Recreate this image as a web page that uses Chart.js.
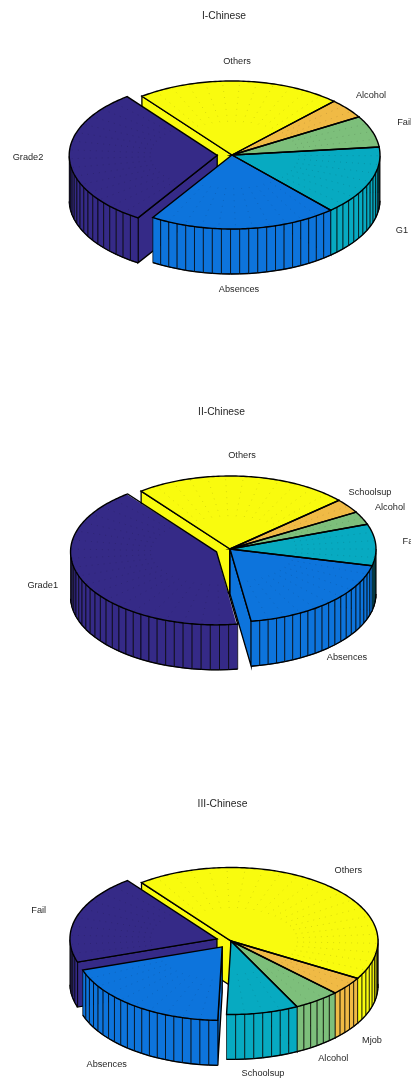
<!DOCTYPE html>
<html>
<head>
<meta charset="utf-8">
<style>
html, body { margin: 0; padding: 0; background: #fff; overflow: hidden; width: 411px; height: 1078px; }
canvas { position: absolute; left: 0; display: block; }
</style>
<script src="https://cdn.jsdelivr.net/npm/chart.js@4"></script>
</head>
<body>
<canvas id="chart1" width="411" height="396" style="top:0"></canvas>
<canvas id="chart2" width="411" height="392" style="top:396px"></canvas>
<canvas id="chart3" width="411" height="290" style="top:788px"></canvas>
<script>
// shares in percent
const labels1 = ['Grade2', 'Absences', 'G1', 'Fail', 'Alcohol', 'Others'];
const values1 = [30.6, 20.6, 15.1, 6.9, 4.3, 22.5];
const explode1 = [1, 0, 0, 0, 0, 0];

const labels2 = ['Grade1', 'Absences', 'Fail', 'Alcohol', 'Schoolsup', 'Others'];
const values2 = [41.9, 19.0, 9.2, 2.9, 3.2, 23.8];
const explode2 = [1, 0, 0, 0, 0, 0];

const labels3 = ['Fail', 'Absences', 'Schoolsup', 'Alcohol', 'Mjob', 'Others'];
const values3 = [19.7, 19.4, 7.9, 5.1, 4.0, 43.9];
const explode3 = [1, 1, 0, 0, 0, 0];

const colors = ['#352a87', '#0d74dc', '#07aac1', '#7dbf7b', '#f0ba45', '#f9fb0e'];

const tilt = 0.5;        // sin of the 30 degree view
const wallHeight = 45;
const wallStep = 3.6;    // degrees per wall facet
const startRotation = 217.5; // first slice starts 127.5 deg round from the x axis

function toRad(d) { return d * Math.PI / 180; }

// ArcElement grows an offset slice by this much, we take it back in afterDatasetsUpdate
function radiusGrowth(el) {
    return el.options.offset / 4 * (1 - Math.sin(Math.min(Math.PI, el.endAngle - el.startAngle)));
}

const pie3d = {
    id: 'pie3d',
    afterDatasetsUpdate(chart) {
        chart.getDatasetMeta(0).data.forEach(el => {
            el.outerRadius -= radiusGrowth(el);
        });
    },
    beforeDatasetsDraw(chart, args, opts) {
        const ctx = chart.ctx;
        const arcs = chart.getDatasetMeta(0).data;
        const c = arcs[0];
        const geo = arcs.map((el, i) => {
            const shift = el.options.offset / 4;
            const mid = (el.startAngle + el.endAngle) / 2;
            return {
                index: i, a: el.startAngle, b: el.endAngle, mid: mid,
                r: el.outerRadius + radiusGrowth(el),
                color: el.options.backgroundColor,
                x: opts.center.x + Math.cos(mid) * shift,
                y: opts.center.y - Math.sin(mid) * shift * tilt
            };
        });
        chart.$geo = geo;

        // back slices first
        const order = geo.slice().sort((p, q) => Math.sin(q.mid) - Math.sin(p.mid));
        order.forEach(s => drawWalls(ctx, s));

        ctx.save();
        ctx.translate(opts.center.x, opts.center.y);
        ctx.scale(1, -tilt);
        ctx.translate(-c.x, -c.y);
    },
    afterDatasetsDraw(chart, args, opts) {
        const ctx = chart.ctx;
        ctx.restore();
        chart.$geo.forEach(s => drawMesh(ctx, s));
        chart.$geo.forEach(s => drawTopEdge(ctx, s));

        ctx.save();
        ctx.font = '9.2px "Liberation Sans", Arial, sans-serif';
        ctx.fillStyle = '#262626';
        ctx.textAlign = 'center';
        ctx.textBaseline = 'middle';
        chart.data.labels.forEach((t, i) => {
            ctx.fillText(t, opts.labelPos[i][0], opts.labelPos[i][1] - opts.top);
        });
        ctx.restore();
    }
};

function rimX(s, t) { return s.x + s.r * Math.cos(t); }
function rimY(s, t) { return s.y - s.r * tilt * Math.sin(t); }

function drawSideWall(ctx, s, t) {
    ctx.beginPath();
    ctx.moveTo(s.x, s.y);
    ctx.lineTo(rimX(s, t), rimY(s, t));
    ctx.lineTo(rimX(s, t), rimY(s, t) + wallHeight);
    ctx.lineTo(s.x, s.y + wallHeight);
    ctx.closePath();
    ctx.fillStyle = s.color;
    ctx.fill();
    ctx.lineWidth = 1.3;
    ctx.strokeStyle = '#000';
    ctx.stroke();
}

function drawWalls(ctx, s) {
    if (Math.cos(s.a) > 0) drawSideWall(ctx, s, s.a);
    if (Math.cos(s.b) < 0) drawSideWall(ctx, s, s.b);

    const n = Math.max(1, Math.ceil((s.b - s.a) / toRad(wallStep)));
    const step = (s.b - s.a) / n;
    for (let i = 0; i < n; i++) {
        const t0 = s.a + i * step;
        const t1 = t0 + step;
        if (Math.sin((t0 + t1) / 2) >= 0) continue;
        ctx.beginPath();
        ctx.moveTo(rimX(s, t0), rimY(s, t0));
        ctx.lineTo(rimX(s, t1), rimY(s, t1));
        ctx.lineTo(rimX(s, t1), rimY(s, t1) + wallHeight);
        ctx.lineTo(rimX(s, t0), rimY(s, t0) + wallHeight);
        ctx.closePath();
        ctx.fillStyle = s.color;
        ctx.fill();
        ctx.lineWidth = 1;
        ctx.strokeStyle = 'rgba(0,0,0,0.7)';
        ctx.stroke();
        // bottom rim is heavier
        ctx.beginPath();
        ctx.moveTo(rimX(s, t0), rimY(s, t0) + wallHeight);
        ctx.lineTo(rimX(s, t1), rimY(s, t1) + wallHeight);
        ctx.lineWidth = 1.3;
        ctx.strokeStyle = '#000';
        ctx.stroke();
    }
}

function drawMesh(ctx, s) {
    const n = Math.max(1, Math.ceil((s.b - s.a) / toRad(wallStep * 2)));
    ctx.save();
    ctx.setLineDash([1, 5]);
    ctx.lineWidth = 1;
    ctx.strokeStyle = 'rgba(0,0,0,0.13)';
    for (let i = 1; i < n; i++) {
        const t = s.a + i * (s.b - s.a) / n;
        ctx.beginPath();
        ctx.moveTo(s.x + 0.45 * (rimX(s, t) - s.x), s.y + 0.45 * (rimY(s, t) - s.y));
        ctx.lineTo(rimX(s, t), rimY(s, t));
        ctx.stroke();
    }
    ctx.restore();
}

function drawTopEdge(ctx, s) {
    ctx.beginPath();
    ctx.moveTo(s.x, s.y);
    const n = Math.ceil((s.b - s.a) / toRad(1));
    for (let i = 0; i <= n; i++) {
        const t = s.a + i * (s.b - s.a) / n;
        ctx.lineTo(rimX(s, t), rimY(s, t));
    }
    ctx.closePath();
    ctx.lineWidth = 1.4;
    ctx.lineJoin = 'miter';
    ctx.strokeStyle = '#000';
    ctx.stroke();
}

function makePie(id, title, titleX, labels, values, explode, radius, center, labelPos, top) {
    return new Chart(document.getElementById(id), {
        type: 'pie',
        data: {
            labels: labels,
            datasets: [{
                data: values,
                backgroundColor: colors,
                borderWidth: 0,
                radius: radius,
                offset: explode.map(e => e * 4 * radius * 0.1),
                clip: false
            }]
        },
        options: {
            responsive: false,
            animation: false,
            events: [],
            rotation: startRotation,
            layout: { padding: { left: 2 * titleX - 411 } },
            plugins: {
                legend: { display: false },
                tooltip: { enabled: false },
                title: {
                    display: true,
                    text: title,
                    color: '#262626',
                    font: { family: '"Liberation Sans", Arial, sans-serif', size: 10.3, weight: 'normal' },
                    padding: { top: 10, bottom: 0 }
                },
                pie3d: { center: center, labelPos: labelPos, top: top }
            }
        },
        plugins: [pie3d]
    });
}

makePie('chart1', 'I-Chinese', 224, labels1, values1, explode1, 148, { x: 232, y: 155 },
    [[28, 157], [239, 289.7], [402, 230], [404.6, 122.5], [371, 95], [237, 61]], 0);
makePie('chart2', 'II-Chinese', 221.5, labels2, values2, explode2, 146, { x: 230, y: 153 },
    [[42.7, 585], [347, 657.7], [410, 541], [390, 507.7], [370, 492.3], [242, 455]], 396);
makePie('chart3', 'III-Chinese', 222.5, labels3, values3, explode3, 147, { x: 231, y: 153 },
    [[38.7, 910.7], [106.7, 1064], [263, 1073.7], [333.3, 1058.7], [372, 1040.7], [348.3, 870]], 788);
</script>
</body>
</html>
